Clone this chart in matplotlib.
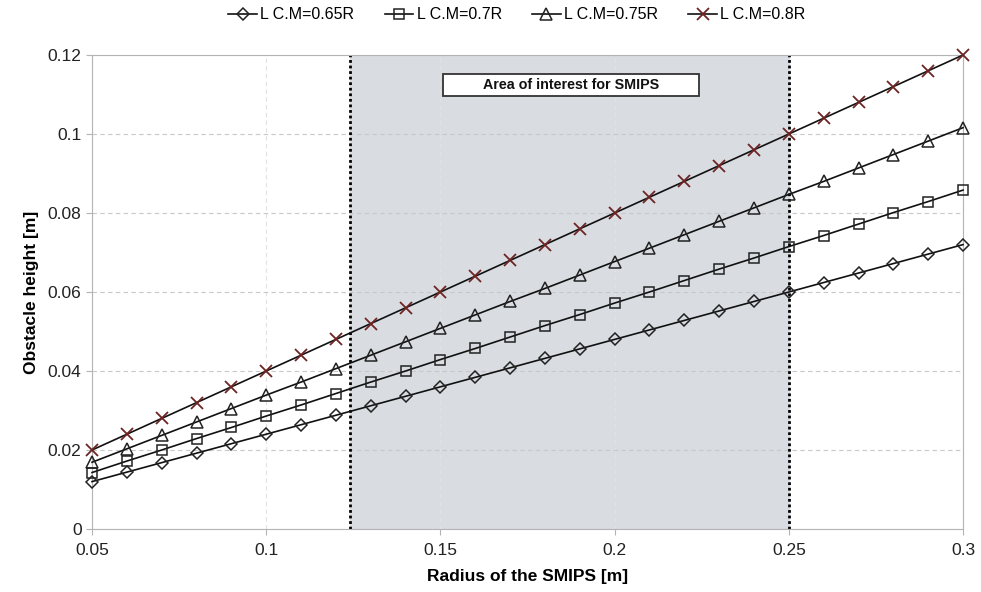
import matplotlib
matplotlib.use("Agg")
import matplotlib.pyplot as plt
from matplotlib.patches import Rectangle

plt.rcParams['font.family'] = ['Liberation Sans', 'DejaVu Sans']

radius = [0.05, 0.06, 0.07, 0.08, 0.09, 0.10, 0.11, 0.12, 0.13, 0.14, 0.15, 0.16, 0.17,
          0.18, 0.19, 0.20, 0.21, 0.22, 0.23, 0.24, 0.25, 0.26, 0.27, 0.28, 0.29, 0.30]

h_065 = [0.0120, 0.0144, 0.0168, 0.0192, 0.0216, 0.0240, 0.0264, 0.0288, 0.0312, 0.0336,
         0.0360, 0.0384, 0.0408, 0.0432, 0.0456, 0.0480, 0.0504, 0.0528, 0.0552, 0.0576,
         0.0600, 0.0624, 0.0648, 0.0672, 0.0696, 0.0720]
h_070 = [0.0143, 0.0172, 0.0200, 0.0229, 0.0257, 0.0286, 0.0314, 0.0343, 0.0372, 0.0400,
         0.0429, 0.0457, 0.0486, 0.0515, 0.0543, 0.0572, 0.0600, 0.0629, 0.0658, 0.0686,
         0.0715, 0.0743, 0.0772, 0.0801, 0.0829, 0.0858]
h_075 = [0.0169, 0.0203, 0.0237, 0.0271, 0.0305, 0.0339, 0.0372, 0.0406, 0.0440, 0.0474,
         0.0508, 0.0542, 0.0576, 0.0609, 0.0643, 0.0677, 0.0711, 0.0745, 0.0779, 0.0813,
         0.0847, 0.0880, 0.0914, 0.0948, 0.0982, 0.1016]
h_080 = [0.020, 0.024, 0.028, 0.032, 0.036, 0.040, 0.044, 0.048, 0.052, 0.056, 0.060, 0.064,
         0.068, 0.072, 0.076, 0.080, 0.084, 0.088, 0.092, 0.096, 0.100, 0.104, 0.108, 0.112,
         0.116, 0.120]

labels = ["L C.M=0.65R", "L C.M=0.7R", "L C.M=0.75R", "L C.M=0.8R"]
area_lo, area_hi = 0.124, 0.25

fig = plt.figure(figsize=(9.81, 5.92), dpi=100)
ax = fig.add_axes([0.0938, 0.1064, 0.8879, 0.8007])

ax.axvspan(area_lo, area_hi, color="#d9dce1", zorder=0)
ax.axvline(area_lo, color="black", ls=(0, (1, 1)), lw=2, zorder=2)
ax.axvline(area_hi, color="black", ls=(0, (1, 1)), lw=2, zorder=2)

common = dict(color="#111111", lw=1.2, mfc="none", mew=1.1, zorder=3, clip_on=False)
ax.plot(radius, h_065, marker="D", ms=6, mec="#222222", label=labels[0], **common)
ax.plot(radius, h_070, marker="s", ms=7, mec="#222222", label=labels[1], **common)
ax.plot(radius, h_075, marker="^", ms=8, mec="#222222", label=labels[2], **common)
ax.plot(radius, h_080, marker="x", ms=9, mec="#6e2424", mew=1.3, color="#111111", lw=1.2,
        zorder=3, clip_on=False, label=labels[3])

ax.set_xlim(0.05, 0.3)
ax.set_ylim(0, 0.12)
ax.set_xticks([0.05, 0.1, 0.15, 0.2, 0.25, 0.3])
ax.set_xticklabels(["0.05", "0.1", "0.15", "0.2", "0.25", "0.3"])
ax.set_yticks([0, 0.02, 0.04, 0.06, 0.08, 0.1, 0.12])
ax.set_yticklabels(["0", "0.02", "0.04", "0.06", "0.08", "0.1", "0.12"])
ax.grid(True, axis="y", color="#c8c8c8", ls=(0, (4, 3)), lw=0.8, zorder=1)
ax.grid(True, axis="x", color="#e2e2e2", ls=(0, (4, 3)), lw=0.8, zorder=1)
ax.set_axisbelow(True)
for sp in ax.spines.values():
    sp.set_color("#b4b4b4")
ax.tick_params(colors="#b4b4b4", labelcolor="#222222", labelsize=12.5, length=4)
ax.tick_params(axis="x", pad=6)

ax.set_xlabel("Radius of the SMIPS [m]", fontsize=12.5, fontweight="bold", labelpad=8)
ax.set_ylabel("Obstacle height [m]", fontsize=12.5, fontweight="bold", labelpad=6)

ax.add_patch(Rectangle((0.1506, 0.1096), 0.2241 - 0.1506, 0.1152 - 0.1096,
                       fc="white", ec="#333333", lw=1.3, zorder=4))
ax.text(0.1874, 0.1124, "Area of interest for SMIPS", ha="center", va="center",
        fontsize=10.3, fontweight="bold", color="#111111", zorder=5)

fig.legend(loc="upper center", bbox_to_anchor=(0.527, 1.012), ncol=4, frameon=False,
           fontsize=11.5, handlelength=1.8, columnspacing=1.9, handletextpad=0.2)

fig.savefig("out.png", dpi=100)
